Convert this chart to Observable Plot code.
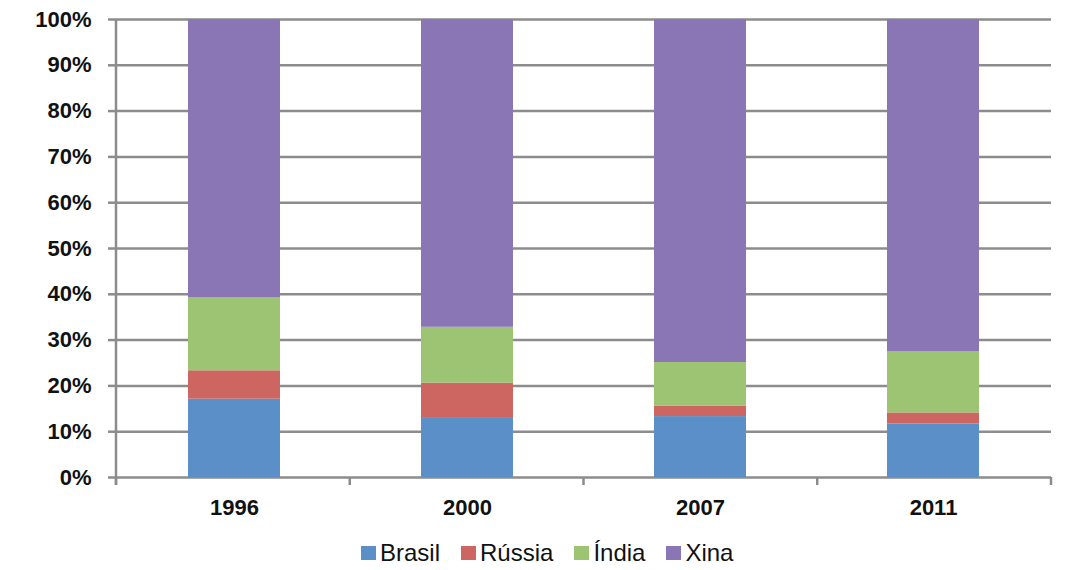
<!DOCTYPE html>
<html>
<head>
<meta charset="utf-8">
<script src="https://cdn.jsdelivr.net/npm/d3@7"></script>
<script src="https://cdn.jsdelivr.net/npm/@observablehq/plot@0.6"></script>
<style>
  html, body { margin: 0; padding: 0; background: #fff; }
  #wrap { position: relative; width: 1072px; height: 570px; font-family: "Liberation Sans", Arial, sans-serif; }
  #legend { position: absolute; left: 361px; top: 539px; display: flex; align-items: center; font-size: 24px; color: #111; }
  .item { display: flex; align-items: center; margin-right: 21px; }
  .sw { width: 15px; height: 14px; margin-right: 4px; }
</style>
</head>
<body>
<div id="wrap"><div id="chart"></div><div id="legend"></div></div>
<script>
const years = ["1996", "2000", "2007", "2011"];
const countries = ["Brasil", "Rússia", "Índia", "Xina"];
const brasil = [17.1, 12.9, 13.3, 11.7];
const russia = [6.2, 7.7, 2.3, 2.4];
const india = [15.9, 12.2, 9.5, 13.4];
const xina = [60.8, 67.2, 74.9, 72.5];
const yTicks = [0, 10, 20, 30, 40, 50, 60, 70, 80, 90, 100];
const colors = ["#5a8fc8", "#cd6560", "#9cc473", "#8a76b4"];

const series = [brasil, russia, india, xina];
const data = [];
years.forEach((y, i) => countries.forEach((c, j) => data.push({year: y, country: c, value: series[j][i]})));

const W = 1072, H = 530;
const mL = 116, mR = 21, mT = 19, mB = 53;
const gray = "#8c8c8c";

const leftAxisAndTicks = (index, scales, values, dims) => {
  const g = d3.create("svg:g");
  const left = dims.marginLeft, right = dims.width - dims.marginRight;
  const bottom = dims.height - dims.marginBottom, top = dims.marginTop;
  g.append("line").attr("x1", left).attr("x2", left).attr("y1", top).attr("y2", bottom + 8)
    .attr("stroke", gray).attr("stroke-width", 2.5);
  const n = years.length;
  for (let k = 0; k <= n; k++) {
    const x = left + (right - left) * k / n;
    g.append("line").attr("x1", x).attr("x2", x).attr("y1", bottom).attr("y2", bottom + 8)
      .attr("stroke", gray).attr("stroke-width", 2.5);
  }
  return g.node();
};

const chart = Plot.plot({
  width: W, height: H,
  marginLeft: mL, marginRight: mR, marginTop: mT, marginBottom: mB,
  style: {fontFamily: "Liberation Sans, Arial, sans-serif", background: "#fff"},
  x: {domain: years, paddingInner: 0.607, paddingOuter: 0.3035, label: null},
  y: {domain: [0, 100], label: null},
  color: {domain: countries, range: colors},
  marks: [
    Plot.ruleY(yTicks, {stroke: gray, strokeWidth: 2.5, strokeOpacity: 1}),
    Plot.barY(data, {x: "year", y: "value", fill: "country", order: countries}),
    Plot.axisY({ticks: yTicks, tickFormat: d => d + "%", tickSize: 8, tickPadding: 17, stroke: gray, strokeWidth: 2.5, strokeOpacity: 1,
      fontSize: 22, fontWeight: "bold", fill: "#111", label: null}),
    Plot.axisX({tickSize: 0, tickPadding: 22, fontSize: 22, fontWeight: "bold", fill: "#111", label: null}),
    leftAxisAndTicks
  ]
});
document.getElementById("chart").appendChild(chart);

const legend = d3.select("#legend");
countries.forEach((c, i) => {
  const it = legend.append("div").attr("class", "item");
  it.append("div").attr("class", "sw").style("background", colors[i]);
  it.append("span").text(c);
});
</script>
</body>
</html>
